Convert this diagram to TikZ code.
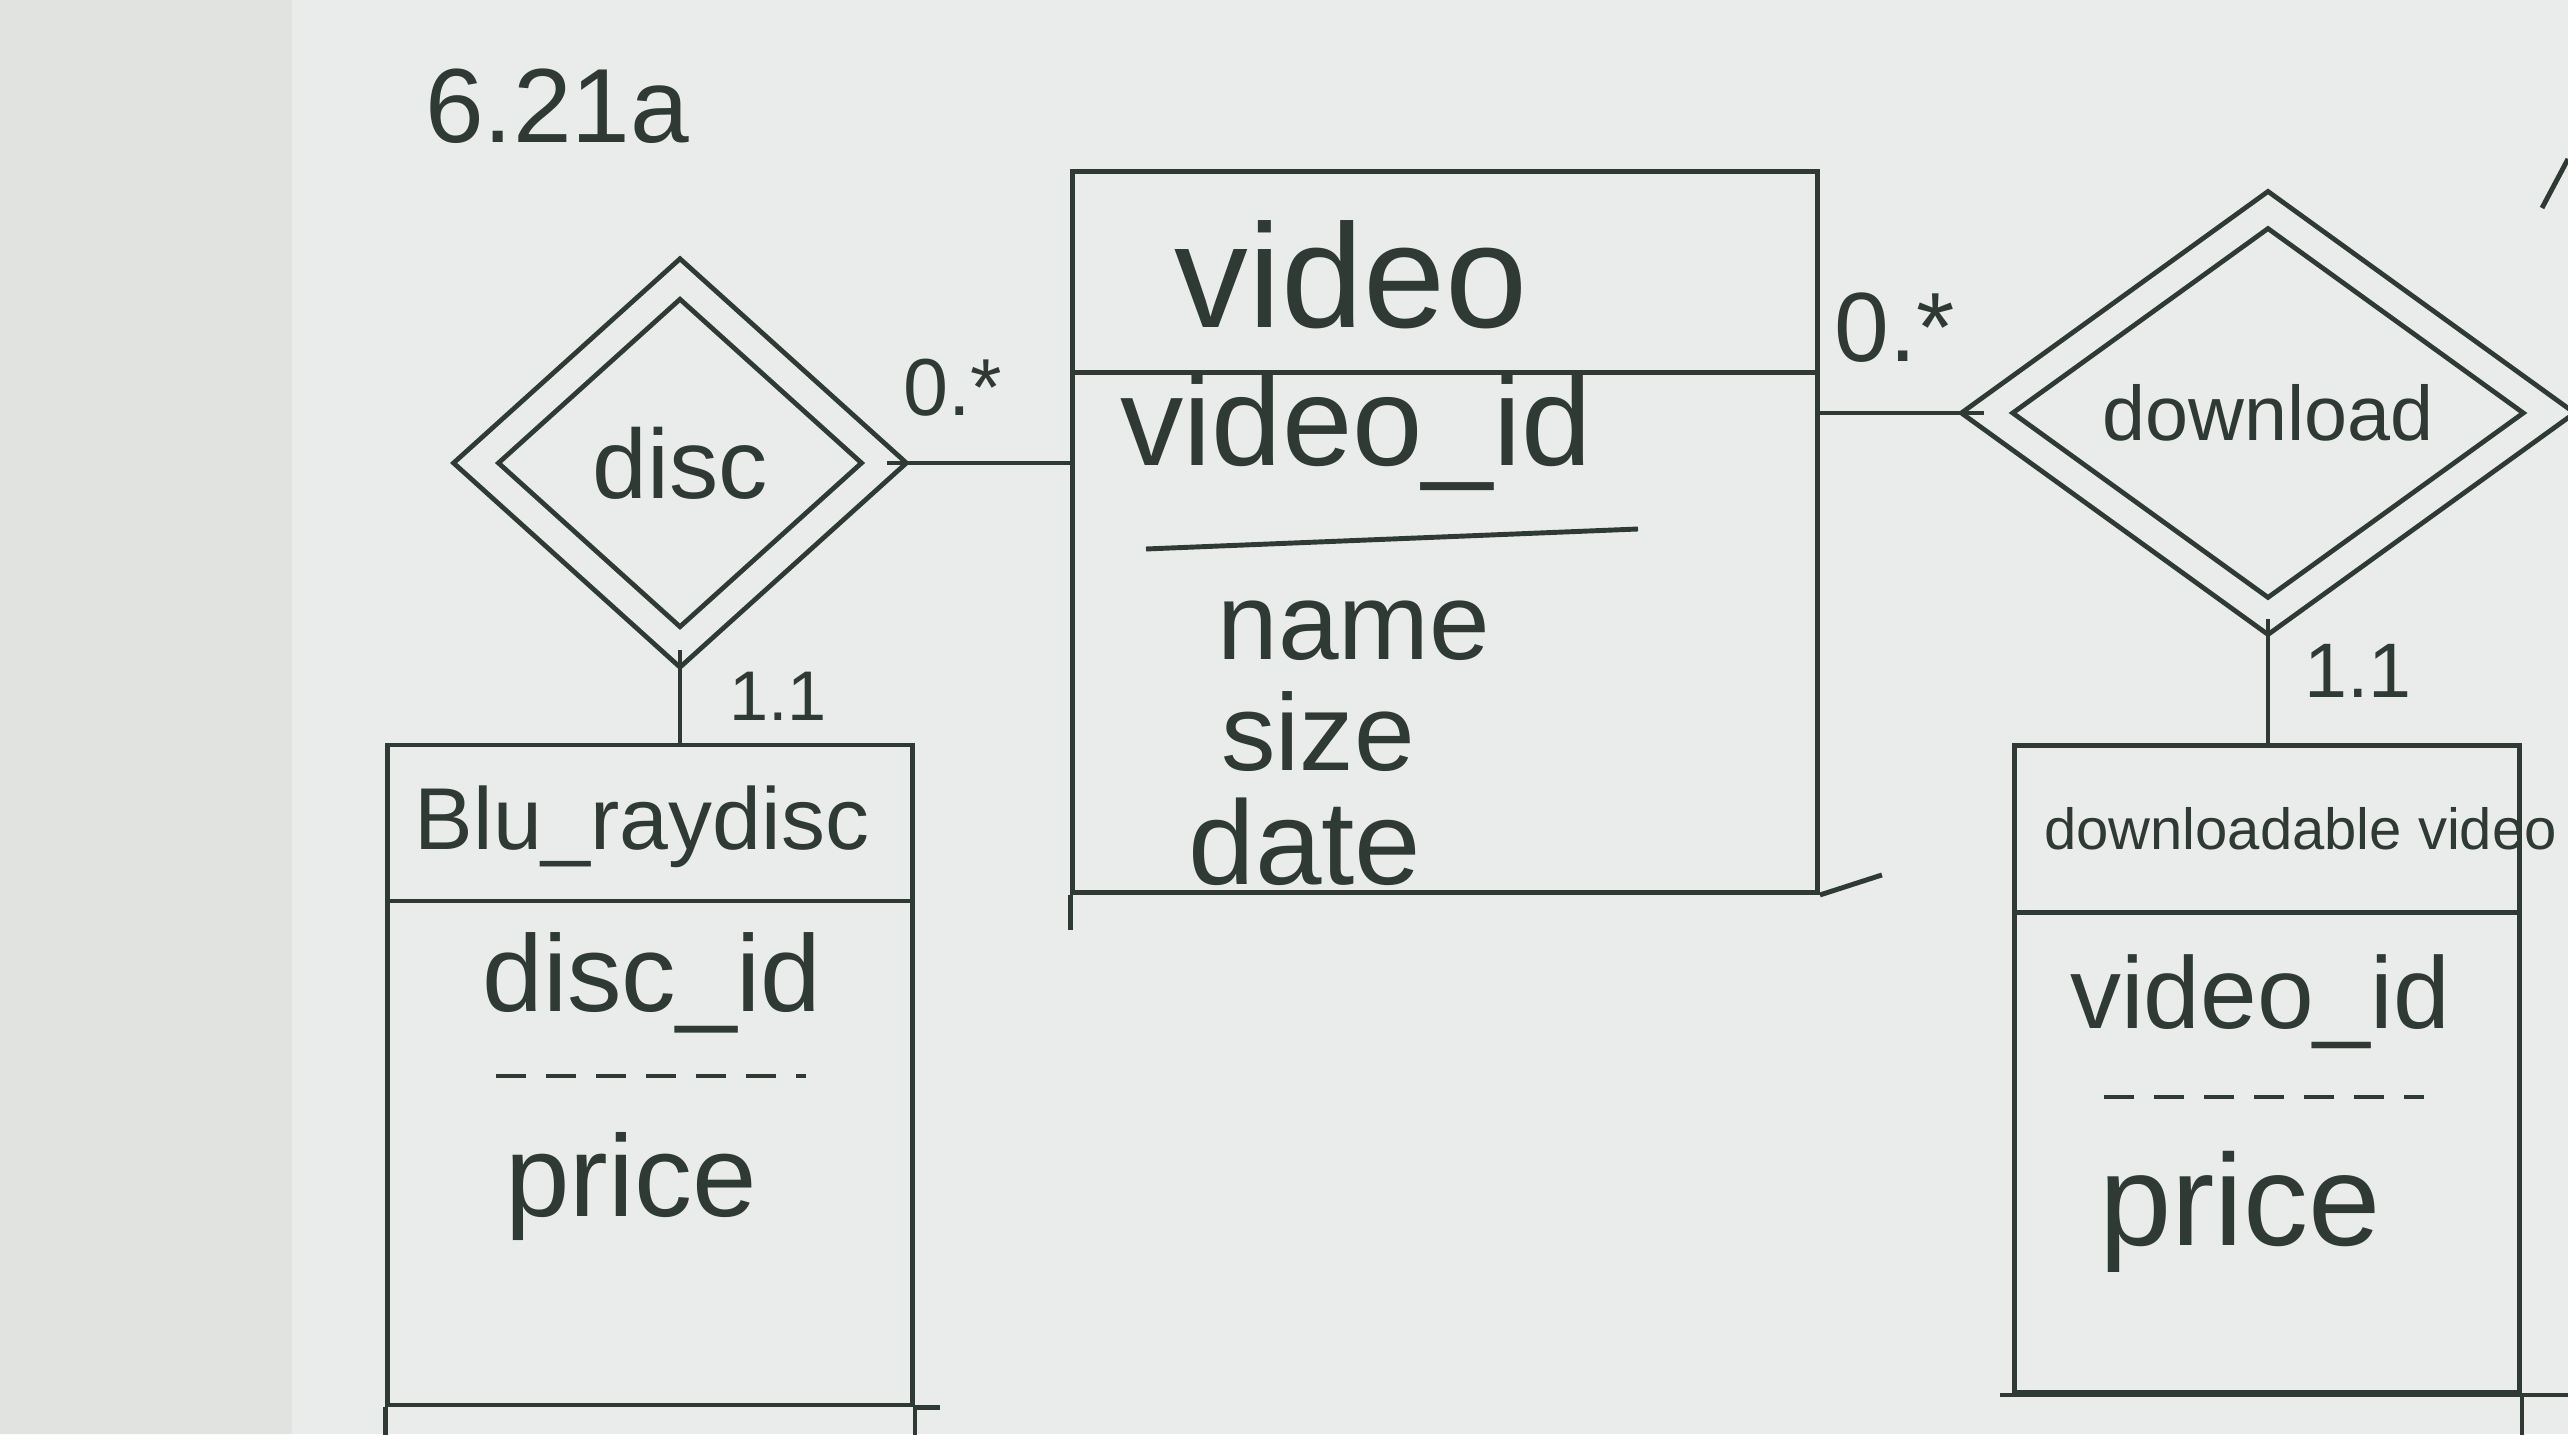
\documentclass[tikz,border=0pt]{standalone}
\usepackage{fontspec}
\setmainfont{Liberation Sans}
\usetikzlibrary{shapes.geometric,positioning}
\definecolor{ink}{RGB}{47,58,53}
\definecolor{paper}{RGB}{234,236,235}
\definecolor{margin}{RGB}{225,227,225}

\begin{document}
\begin{tikzpicture}[line width=1.4pt, color=ink,
  every node/.style={text=ink},
  rel/.style={diamond, draw, double=paper, double distance=0.25cm, inner sep=0pt},
  ent/.style={rectangle, draw, inner sep=0pt},
  txt/.style={font=\fontsize{#1pt}{#1pt}\selectfont}]
\fill[margin] (0,0) rectangle (2.92,14.34);
\fill[paper] (2.92,0) rectangle (25.68,14.34);
\useasboundingbox (0,0) rectangle (25.68,14.34);

\node[txt=30] (num) at (5.57,13.28) {6.21a};

% video
\node[ent, minimum width=7.45cm, minimum height=2.01cm] (vtitle) at (14.45,11.62) {};
\node[ent, minimum width=7.45cm, minimum height=5.2cm, below=-1.4pt of vtitle] (vbody) {};
\node[txt=42] (vname) at (13.51,11.59) {video};
\node[txt=36] (vid) at (13.56,10.02) {video\_id};
\draw (11.46,8.85) -- (16.38,9.05);
\node[txt=31] (vn) at (13.54,8.03) {name};
\node[txt=31] (vs) at (13.18,7.02) {size};
\node[txt=34] (vd) at (13.05,5.92) {date};
\draw (vbody.south east) -- ++(0.62,0.2);
\draw (vbody.south west) -- ++(0,-0.35);

% relationships
\node[rel, minimum width=4.1cm, minimum height=3.7cm, txt=28] (disc) at (6.80,9.71) {disc};
\node[rel, minimum width=5.64cm, minimum height=4.08cm, txt=22] (dl) at (22.68,10.21) {download};

% Blu_raydisc
\node[ent, minimum width=5.25cm, minimum height=1.56cm] (btitle) at (6.50,6.11) {};
\node[ent, minimum width=5.25cm, minimum height=5.04cm, below=-1.4pt of btitle] (bbody) {};
\node[txt=25] (bname) at (6.42,6.07) {Blu\_raydisc};
\node[txt=31] (bid) at (6.52,4.51) {disc\_id};
\draw[dash pattern=on 0.3cm off 0.2cm] (4.96,3.58) -- (8.06,3.58);
\node[txt=33] (bprice) at (6.31,2.47) {price};
\draw (bbody.south west) -- ++(0,-0.3);
\draw (bbody.south east) -- ++(0,-0.3);
\draw (bbody.south east) -- ++(0.25,0);

% downloadable video
\node[ent, minimum width=5.05cm, minimum height=1.67cm] (dtitle) at (22.67,6.05) {};
\node[ent, minimum width=5.05cm, minimum height=4.8cm, below=-1.4pt of dtitle] (dbody) {};
\node[txt=16.5, anchor=west] (dname) at (20.30,6.05) {downloadable video};
\node[txt=29] (did) at (22.60,4.32) {video\_id};
\draw[dash pattern=on 0.3cm off 0.2cm] (21.04,3.37) -- (24.24,3.37);
\node[txt=37] (dprice) at (22.40,2.22) {price};
\draw (dbody.south east) -- ++(0,-0.42);
\draw (dbody.south west) ++(-0.12,0) -- ++(5.8,0);

% links
\draw (disc.east) -- (disc.east -| vbody.west);
\draw (vbody.east |- dl.west) -- (dl.west);
\draw (disc.south) -- (disc.south |- btitle.north);
\draw (dl.south) -- (dl.south |- dtitle.north);
\node[txt=23] (m1) at (9.53,10.46) {0.*};
\node[txt=28] (m2) at (18.95,11.06) {0.*};
\node[txt=20] (m3) at (7.78,7.38) {1.1};
\node[txt=22] (m4) at (23.58,7.63) {1.1};

\draw (25.42,12.26) -- (25.68,12.75);
\end{tikzpicture}
\end{document}
